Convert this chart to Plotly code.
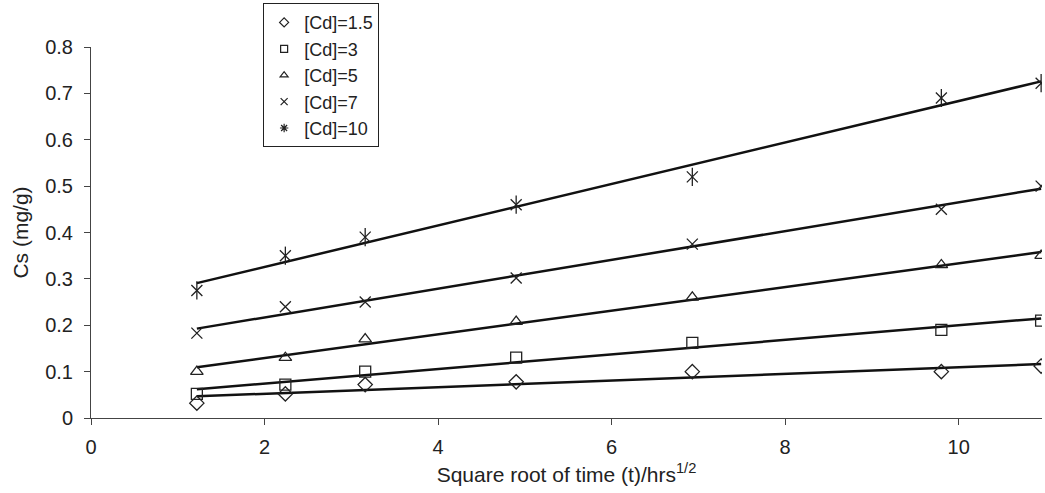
import numpy as np
import plotly.graph_objects as go

x_sqrt_t = [1.22, 2.24, 3.16, 4.90, 6.93, 9.80, 10.95]
series_names = ["[Cd]=1.5", "[Cd]=3", "[Cd]=5", "[Cd]=7", "[Cd]=10"]
cd_1_5 = [0.032, 0.052, 0.072, 0.078, 0.100, 0.100, 0.112]
cd_3 = [0.052, 0.072, 0.100, 0.130, 0.162, 0.190, 0.210]
cd_5 = [0.100, 0.130, 0.170, 0.208, 0.260, 0.330, 0.350]
cd_7 = [0.183, 0.240, 0.250, 0.302, 0.375, 0.450, 0.500]
cd_10 = [0.275, 0.350, 0.390, 0.460, 0.520, 0.690, 0.722]
series_values = [cd_1_5, cd_3, cd_5, cd_7, cd_10]
y_ticks = [0, 0.1, 0.2, 0.3, 0.4, 0.5, 0.6, 0.7, 0.8]
x_ticks = [0, 2, 4, 6, 8, 10]

symbols = ["diamond-open", "square-open", "triangle-up-open", "x-thin-open", "x-thin-open"]
legend_symbols = ["diamond-open", "square-open", "triangle-up-open", "x-thin-open", "asterisk-open"]
marker_col = "#222222"
FONT = "Liberation Sans, Arial, sans-serif"

fig = go.Figure()
xs = np.array(x_sqrt_t)
for name, ys in zip(series_names, series_values):
    k, b = np.polyfit(xs, np.array(ys), 1)
    xl = np.array([xs.min(), xs.max()])
    fig.add_trace(go.Scatter(x=xl, y=k * xl + b, mode="lines",
                             line=dict(color="#111111", width=2.5),
                             showlegend=False, hoverinfo="skip"))

for i, (name, ys) in enumerate(zip(series_names, series_values)):
    fig.add_trace(go.Scatter(x=x_sqrt_t, y=ys, mode="markers", showlegend=False,
                             marker=dict(symbol=symbols[i], size=11,
                                         color=marker_col,
                                         line=dict(color=marker_col, width=1.3))))
    if i == 4:
        fig.add_trace(go.Scatter(x=x_sqrt_t, y=ys, mode="markers", showlegend=False,
                                 marker=dict(symbol="line-ns-open", size=13,
                                             color=marker_col,
                                             line=dict(color=marker_col, width=1.3))))

for i, name in enumerate(series_names):
    fig.add_trace(go.Scatter(x=[None], y=[None], mode="markers", name=name,
                             marker=dict(symbol=legend_symbols[i], size=7,
                                         color=marker_col,
                                         line=dict(color=marker_col, width=1.2))))

fig.update_layout(
    width=1045, height=493,
    margin=dict(l=91, r=3, t=47, b=75),
    paper_bgcolor="white", plot_bgcolor="white",
    font=dict(family=FONT, size=20, color="#222222"),
    showlegend=True,
    legend=dict(x=0.181, y=1.118, xanchor="left", yanchor="top",
                bordercolor="#222222", borderwidth=1, bgcolor="white",
                font=dict(size=18), itemwidth=30, tracegroupgap=0),
    xaxis=dict(range=[0, 10.96], tickvals=x_ticks, ticks="outside", ticklen=6,
               tickcolor="#444444", showline=True, linecolor="#444444", linewidth=1,
               showgrid=False, zeroline=False, ticklabelstandoff=5,
               title=dict(text="Square root of time (t)/hrs<sup>1/2</sup>",
                          font=dict(size=21), standoff=10)),
    yaxis=dict(range=[0, 0.8], tickvals=y_ticks, ticktext=[str(v) for v in y_ticks],
               ticks="outside", ticklen=6, tickcolor="#444444",
               showline=True, linecolor="#444444", linewidth=1,
               showgrid=False, zeroline=False, ticklabelstandoff=7,
               title=dict(text="Cs (mg/g)", font=dict(size=21), standoff=10)),
)

fig.write_html("out.html")
